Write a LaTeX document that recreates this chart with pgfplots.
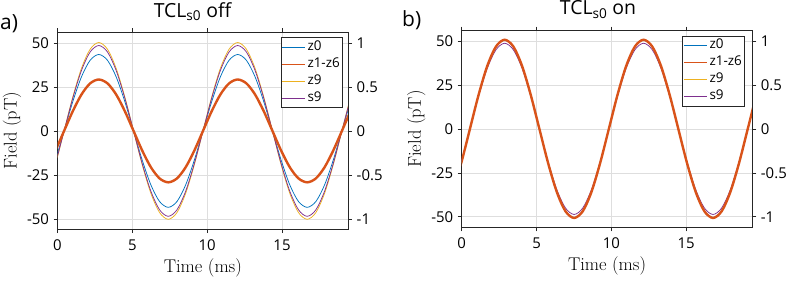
\documentclass[border=0pt]{standalone}
\usepackage{fontspec}
\usepackage{pgfplots}
\usepackage{pgfplotstable}
\pgfplotsset{compat=1.18}
\newfontfamily\osans{Open Sans}
\definecolor{cBlue}{rgb}{0,0.447,0.741}
\definecolor{cOrange}{rgb}{0.850,0.325,0.098}
\definecolor{cYellow}{rgb}{0.929,0.694,0.125}
\definecolor{cPurple}{rgb}{0.494,0.184,0.556}
\definecolor{gridc}{RGB}{222,222,222}
\definecolor{axc}{RGB}{38,38,38}

\pgfplotstableread{
t z0 z16 z9 s9
-0.72 -30.69 -20.65 -35.50 -34.29
-0.14 -16.61 -11.17 -19.21 -18.56
0.44 0 0 0 0
1.02 16.61 11.17 19.21 18.56
1.60 30.69 20.65 35.50 34.29
2.18 40.10 26.98 46.38 44.81
2.76 43.40 29.20 50.20 48.50
3.34 40.10 26.98 46.38 44.81
3.92 30.69 20.65 35.50 34.29
4.50 16.61 11.17 19.21 18.56
5.08 0 0 0 0
5.66 -16.61 -11.17 -19.21 -18.56
6.24 -30.69 -20.65 -35.50 -34.29
6.82 -40.10 -26.98 -46.38 -44.81
7.40 -43.40 -29.20 -50.20 -48.50
7.98 -40.10 -26.98 -46.38 -44.81
8.56 -30.69 -20.65 -35.50 -34.29
9.14 -16.61 -11.17 -19.21 -18.56
9.72 0 0 0 0
10.30 16.61 11.17 19.21 18.56
10.88 30.69 20.65 35.50 34.29
11.46 40.10 26.98 46.38 44.81
12.04 43.40 29.20 50.20 48.50
12.62 40.10 26.98 46.38 44.81
13.20 30.69 20.65 35.50 34.29
13.78 16.61 11.17 19.21 18.56
14.36 0 0 0 0
14.94 -16.61 -11.17 -19.21 -18.56
15.52 -30.69 -20.65 -35.50 -34.29
16.10 -40.10 -26.98 -46.38 -44.81
16.68 -43.40 -29.20 -50.20 -48.50
17.26 -40.10 -26.98 -46.38 -44.81
17.84 -30.69 -20.65 -35.50 -34.29
18.42 -16.61 -11.17 -19.21 -18.56
19.00 0 0 0 0
19.58 16.61 11.17 19.21 18.56
20.16 30.69 20.65 35.50 34.29
}\tabA

\pgfplotstableread{
t z0 z16 z9 s9
-0.61 -35.64 -35.85 -35.78 -34.44
-0.03 -19.29 -19.40 -19.36 -18.64
0.55 0 0 0 0
1.13 19.29 19.40 19.36 18.64
1.71 35.64 35.85 35.78 34.44
2.29 46.56 46.84 46.75 44.99
2.87 50.40 50.70 50.60 48.70
3.45 46.56 46.84 46.75 44.99
4.03 35.64 35.85 35.78 34.44
4.61 19.29 19.40 19.36 18.64
5.19 0 0 0 0
5.77 -19.29 -19.40 -19.36 -18.64
6.35 -35.64 -35.85 -35.78 -34.44
6.93 -46.56 -46.84 -46.75 -44.99
7.51 -50.40 -50.70 -50.60 -48.70
8.09 -46.56 -46.84 -46.75 -44.99
8.67 -35.64 -35.85 -35.78 -34.44
9.25 -19.29 -19.40 -19.36 -18.64
9.83 0 0 0 0
10.41 19.29 19.40 19.36 18.64
10.99 35.64 35.85 35.78 34.44
11.57 46.56 46.84 46.75 44.99
12.15 50.40 50.70 50.60 48.70
12.73 46.56 46.84 46.75 44.99
13.31 35.64 35.85 35.78 34.44
13.89 19.29 19.40 19.36 18.64
14.47 0 0 0 0
15.05 -19.29 -19.40 -19.36 -18.64
15.63 -35.64 -35.85 -35.78 -34.44
16.21 -46.56 -46.84 -46.75 -44.99
16.79 -50.40 -50.70 -50.60 -48.70
17.37 -46.56 -46.84 -46.75 -44.99
17.95 -35.64 -35.85 -35.78 -34.44
18.53 -19.29 -19.40 -19.36 -18.64
19.11 0 0 0 0
19.69 19.29 19.40 19.36 18.64
20.27 35.64 35.85 35.78 34.44
}\tabB

\pgfplotsset{
  common/.style={
    scale only axis, width=290.7bp, height=196.7bp,
    xmin=0, xmax=19.42,
    axis line style={axc, line width=0.6bp},
    tick style={axc, line width=0.6bp},
    tick align=outside, major tick length=4bp,
    tick label style={font=\osans\fontsize{15}{16}\selectfont, text=black},
  },
  leftax/.style={
    common,
    ymin=-55.7, ymax=56,
    xtick={0,5,10,15}, xticklabels={0,5,10,15},
    ytick={-50,-25,0,25,50}, yticklabels={-50,-25,0,25,50},
    xtick pos=both, ytick pos=left,
    grid=major, major grid style={gridc, line width=0.6bp},
    xticklabel style={yshift=-3bp},
    yticklabel style={xshift=-1bp},
    xlabel={Time (ms)}, ylabel={Field (pT)},
    label style={font=\fontsize{18.5}{20}\selectfont},
    xlabel style={at={(axis description cs:0.5,-0.222)}, anchor=base},
    ylabel style={at={(axis description cs:-0.1565,0.5)}, anchor=center},
    legend cell align=left,
    legend style={draw=axc, line width=0.6bp, fill=white,
      font=\osans\fontsize{13.5}{14}\selectfont,
      at={(1,1)}, anchor=north east, xshift=-5.6bp, yshift=-5bp,
      inner xsep=1bp, inner ysep=1bp,
      nodes={inner ysep=2bp, inner xsep=1.5bp, text height=10bp, text depth=3bp}},
  },
  rightax/.style={
    common,
    axis x line=none, axis y line*=right,
    ytick={-1,-0.5,0,0.5,1}, yticklabels={-1,-0.5,0,0.5,1},
    yticklabel style={xshift=1bp},
  },
  thin/.style={line width=0.75bp, smooth},
  limg/.style={legend image code/.code={\draw[#1] (0bp,0bp) -- (23bp,0bp);}},
}

\begin{document}
\begin{tikzpicture}
\useasboundingbox (0,0) rectangle (789bp,281bp);

% ---------- panel a ----------
\begin{axis}[leftax, at={(57.5bp,52bp)}, anchor=south west]
  \addlegendimage{limg, draw=cBlue, line width=1.1bp}
  \addlegendimage{limg, draw=cOrange, line width=1.1bp}
  \addlegendimage{limg, draw=cYellow, line width=1.1bp}
  \addlegendimage{limg, draw=cPurple, line width=1.1bp}
  \addplot[cBlue, thin, forget plot] table[x=t, y=z0] {\tabA};
  \addplot[cYellow, thin, forget plot] table[x=t, y=z9] {\tabA};
  \addplot[cPurple, thin, forget plot] table[x=t, y=s9] {\tabA};
  \addplot[cOrange, line width=2.4bp, smooth, forget plot] table[x=t, y=z16] {\tabA};
  \legend{z0,z1-z6,z9,s9}
\end{axis}
\begin{axis}[rightax, at={(57.5bp,52bp)}, anchor=south west,
  ymin=-1.114, ymax=1.12]
\end{axis}

% ---------- panel b ----------
\begin{axis}[leftax, at={(461.7bp,53.7bp)}, anchor=south west,
  ymin=-56, ymax=55.9,
  legend style={xshift=-2.2bp}]
  \addlegendimage{limg, draw=cBlue, line width=1.4bp}
  \addlegendimage{limg, draw=cOrange, line width=1.4bp}
  \addlegendimage{limg, draw=cYellow, line width=1.4bp}
  \addlegendimage{limg, draw=cPurple, line width=1.4bp}
  \addplot[cBlue, thin, forget plot] table[x=t, y=z0] {\tabB};
  \addplot[cYellow, thin, forget plot] table[x=t, y=z9] {\tabB};
  \addplot[cPurple, thin, forget plot] table[x=t, y=s9] {\tabB};
  \addplot[cOrange, line width=2.4bp, smooth, forget plot] table[x=t, y=z16] {\tabB};
  \legend{z0,z1-z6,z9,s9}
\end{axis}
\begin{axis}[rightax, at={(461.7bp,53.7bp)}, anchor=south west,
  ymin=-1.12, ymax=1.118]
\end{axis}

% titles and panel letters
\node[anchor=base, inner sep=0pt, font=\osans\fontsize{19.5}{20}\selectfont] at (192.5bp,263.7bp) {TCL\textsubscript{s0} off};
\node[anchor=base, inner sep=0pt, font=\osans\fontsize{19.5}{20}\selectfont] at (598bp,266bp) {TCL\textsubscript{s0} on};
\node[anchor=base west, inner sep=0pt, font=\osans\fontsize{21}{22}\selectfont] at (0bp,251bp) {a)};
\node[anchor=base west, inner sep=0pt, font=\osans\fontsize{21}{22}\selectfont] at (402bp,254bp) {b)};
\end{tikzpicture}
\end{document}
